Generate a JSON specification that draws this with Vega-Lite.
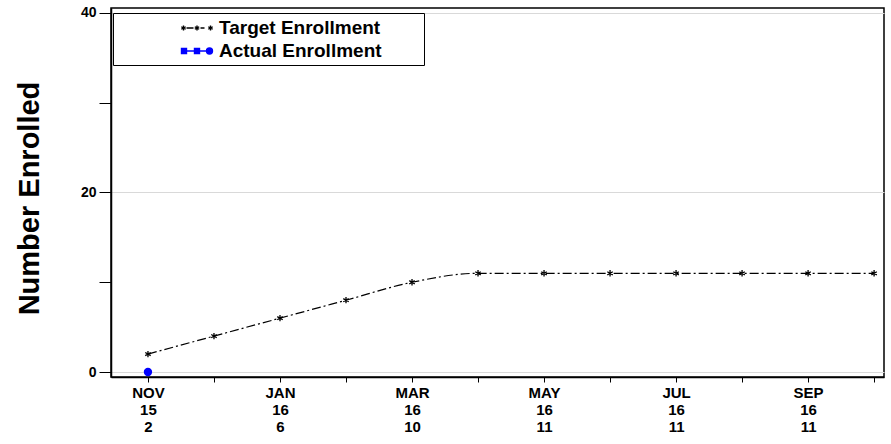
{
  "$schema": "https://vega.github.io/schema/vega-lite/v6.json",
  "width": 773,
  "height": 369,
  "autosize": "none",
  "padding": {"left": 111, "top": 8, "right": 7, "bottom": 67},
  "background": "white",
  "config": {
    "font": "Liberation Sans",
    "view": {"stroke": "black", "strokeWidth": 1.5}
  },
  "data": {
    "values": [
      {"month": "2015-11", "idx": 0, "series": "Target Enrollment", "enrolled": 2},
      {"month": "2015-12", "idx": 1, "series": "Target Enrollment", "enrolled": 4},
      {"month": "2016-01", "idx": 2, "series": "Target Enrollment", "enrolled": 6},
      {"month": "2016-02", "idx": 3, "series": "Target Enrollment", "enrolled": 8},
      {"month": "2016-03", "idx": 4, "series": "Target Enrollment", "enrolled": 10},
      {"month": "2016-04", "idx": 5, "series": "Target Enrollment", "enrolled": 11},
      {"month": "2016-05", "idx": 6, "series": "Target Enrollment", "enrolled": 11},
      {"month": "2016-06", "idx": 7, "series": "Target Enrollment", "enrolled": 11},
      {"month": "2016-07", "idx": 8, "series": "Target Enrollment", "enrolled": 11},
      {"month": "2016-08", "idx": 9, "series": "Target Enrollment", "enrolled": 11},
      {"month": "2016-09", "idx": 10, "series": "Target Enrollment", "enrolled": 11},
      {"month": "2016-10", "idx": 11, "series": "Target Enrollment", "enrolled": 11},
      {"month": "2015-11", "idx": 0, "series": "Actual Enrollment", "enrolled": 0}
    ]
  },
  "encoding": {
    "x": {
      "field": "idx",
      "type": "quantitative",
      "scale": {"domain": [-0.56, 11.15], "nice": false, "zero": false},
      "axis": {
        "title": null,
        "values": [0, 1, 2, 3, 4, 5, 6, 7, 8, 9, 10, 11],
        "grid": false,
        "tickSize": 5,
        "tickColor": "black",
        "domainColor": "black",
        "domainWidth": 1.5,
        "labelFont": "Liberation Sans",
        "labelFontWeight": "bold",
        "labelFontSize": 15,
        "labelColor": "black",
        "labelPadding": 3,
        "labelLineHeight": 17,
        "labelFlush": false,
        "labelOverlap": false,
        "labelExpr": "datum.value % 2 === 0 ? [['NOV','15','2'],['JAN','16','6'],['MAR','16','10'],['MAY','16','11'],['JUL','16','11'],['SEP','16','11']][datum.value / 2] : ''"
      }
    },
    "y": {
      "field": "enrolled",
      "type": "quantitative",
      "scale": {"domain": [-0.556, 40.556], "nice": false, "zero": false},
      "axis": {
        "title": "Number Enrolled",
        "titleFont": "Liberation Sans",
        "titleFontSize": 29,
        "titleFontWeight": "bold",
        "titleColor": "black",
        "titlePadding": 36,
        "titleY": 190,
        "values": [0, 10, 20, 30, 40],
        "labelExpr": "datum.value % 20 === 0 ? datum.label : ''",
        "tickSize": 12,
        "tickColor": "black",
        "domainColor": "black",
        "domainWidth": 1.5,
        "labelFont": "Liberation Sans",
        "labelFontWeight": "bold",
        "labelFontSize": 14,
        "labelColor": "black",
        "labelPadding": 3,
        "grid": true,
        "gridColor": "#d9d9d9",
        "gridOpacity": {"condition": {"test": "datum.value % 20 === 0", "value": 1}, "value": 0}
      }
    },
    "color": {
      "field": "series",
      "type": "nominal",
      "scale": {"domain": ["Target Enrollment", "Actual Enrollment"], "range": ["black", "#0000ff"]},
      "legend": {
        "title": " ",
        "titleOrient": "right",
        "titlePadding": 38,
        "titleFontSize": 8,
        "orient": "none",
        "legendX": 2,
        "legendY": 5,
        "strokeColor": "black",
        "fillColor": "white",
        "padding": 4,
        "symbolSize": 400,
        "symbolOffset": 69,
        "labelOffset": 11,
        "labelLimit": 400,
        "labelFont": "Liberation Sans",
        "labelFontSize": 19,
        "labelFontWeight": "bold",
        "labelColor": "black",
        "rowPadding": 2,
        "encode": {
          "symbols": {
            "update": {
              "shape": {"signal": "datum.value === 'Target Enrollment' ? 'M-1.05,0H-0.35M0.35,0H0.75M-1.35,-0.25V0.25M-1.57,-0.125L-1.13,0.125M-1.57,0.125L-1.13,-0.125M0,-0.25V0.25M-0.22,-0.125L0.22,0.125M-0.22,0.125L0.22,-0.125M1.35,-0.25V0.25M1.13,-0.125L1.57,0.125M1.13,0.125L1.57,-0.125' : 'M-1.55,0H1.55M-1.55,-0.25H-1.05V0.25H-1.55ZM-0.25,-0.25H0.25V0.25H-0.25ZM0.95,0A0.3,0.3 0 1,0 1.55,0A0.3,0.3 0 1,0 0.95,0Z'"},
              "fill": {"signal": "datum.value === 'Target Enrollment' ? 'transparent' : '#0000ff'"},
              "stroke": {"signal": "datum.value === 'Target Enrollment' ? 'black' : '#0000ff'"},
              "strokeWidth": {"value": 1.4},
              "opacity": {"value": 1}
            }
          }
        }
      }
    }
  },
  "layer": [
    {
      "transform": [{"filter": "datum.series === 'Target Enrollment'"}],
      "mark": {"type": "line", "interpolate": "monotone", "strokeDash": [9, 3, 2, 3], "strokeWidth": 1.2}
    },
    {
      "transform": [{"filter": "datum.series === 'Target Enrollment'"}],
      "mark": {
        "type": "point",
        "shape": "M0,-1V1M-0.87,-0.5L0.87,0.5M-0.87,0.5L0.87,-0.5",
        "size": 40,
        "filled": false,
        "strokeWidth": 1.3,
        "opacity": 1
      }
    },
    {
      "transform": [{"filter": "datum.series === 'Actual Enrollment'"}],
      "mark": {"type": "circle", "size": 70, "opacity": 1}
    }
  ]
}
